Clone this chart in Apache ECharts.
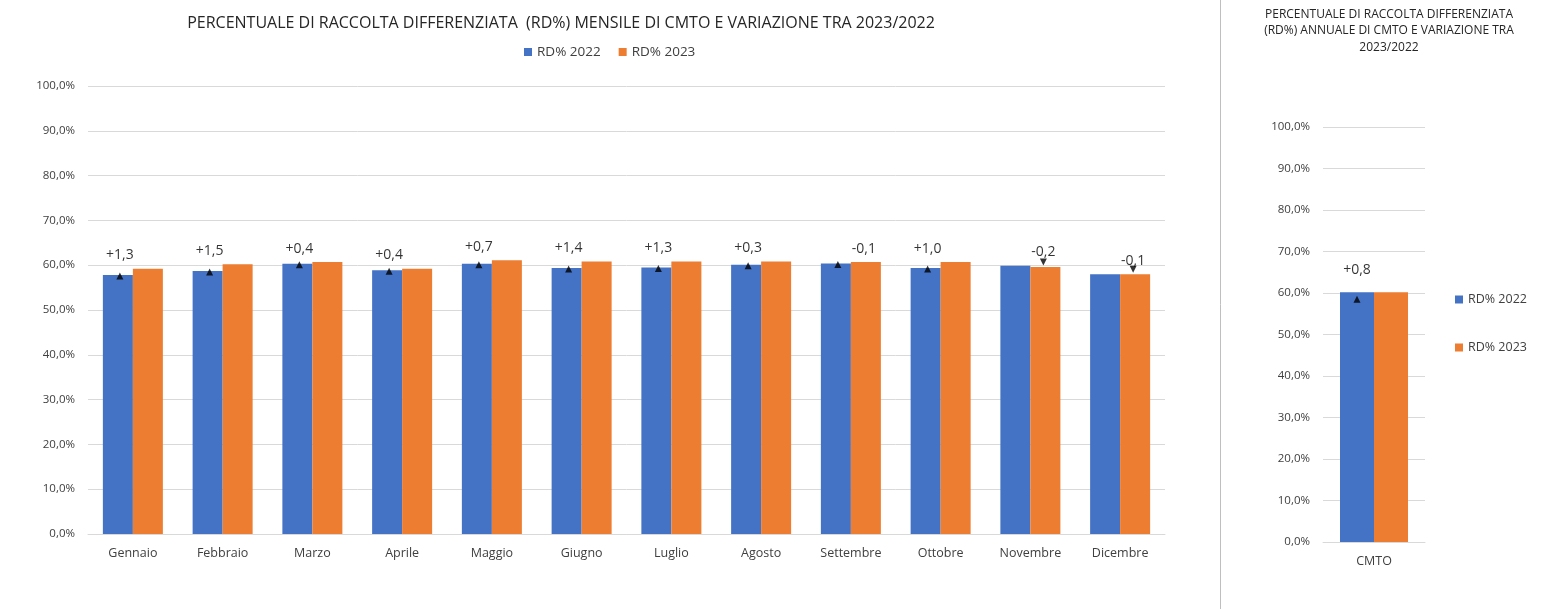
<!DOCTYPE html>
<html><head><meta charset="utf-8">
<script src="https://cdn.jsdelivr.net/npm/echarts@6/dist/echarts.min.js"></script>
<style>html,body{margin:0;padding:0;background:#fff}#c{width:1542px;height:609px}</style>
</head><body><div id="c"></div>
<script>
const months = ['Gennaio','Febbraio','Marzo','Aprile','Maggio','Giugno','Luglio','Agosto','Settembre','Ottobre','Novembre','Dicembre'];
const rd2022 = [57.8, 58.7, 60.3, 58.9, 60.3, 59.4, 59.5, 60.1, 60.4, 59.4, 59.9, 58.0];
const rd2023 = [59.2, 60.2, 60.7, 59.2, 61.1, 60.8, 60.8, 60.8, 60.7, 60.7, 59.6, 58.0];
const variation = [1.3, 1.5, 0.4, 0.4, 0.7, 1.4, 1.3, 0.3, -0.1, 1.0, -0.2, -0.1];
const arrowUp = [true, true, true, true, true, true, true, true, true, true, false, false];
const annualCat = ['CMTO'];
const annual2022 = [60.2];
const annual2023 = [60.2];
const annualVariation = [0.8];
const yTicks = [0, 10, 20, 30, 40, 50, 60, 70, 80, 90, 100];

const FONT = 'Open Sans';
const BLUE = '#4472C4', ORANGE = '#ED7D31';
const fmtPct = v => v.toFixed(1).replace('.', ',') + '%';
const fmtVar = v => (v > 0 ? '+' : '') + v.toFixed(1).replace('.', ',');

const chart = echarts.init(document.getElementById('c'), null, {renderer: 'canvas'});

const yAxisBase = {
  type: 'value', min: yTicks[0], max: yTicks[yTicks.length - 1], interval: 10,
  axisLine: {show: false}, axisTick: {show: false},
  splitLine: {lineStyle: {color: '#d9d9d9', width: 1}},
  axisLabel: {formatter: fmtPct, color: '#404040', fontFamily: FONT, fontSize: 11.5, margin: 13}
};
const xAxisBase = {
  type: 'category',
  axisLine: {lineStyle: {color: '#d9d9d9'}}, axisTick: {show: false},
  axisLabel: {color: '#404040', fontFamily: FONT, fontSize: 12.5, margin: 13}
};

const markerData = months.map((m, i) => {
  const up = arrowUp[i];
  return {
    value: [i, up ? rd2022[i] : rd2023[i]],
    symbolRotate: up ? 0 : 180,
    symbolOffset: up ? [-13, 1] : [13, -5]
  };
});
const labelData = months.map((m, i) => ({
  value: [i, Math.max(rd2022[i], rd2023[i])],
  label: {offset: [variation[i] >= 0 ? -13 : 13, 0]}
}));

chart.setOption({
  animation: false,
  title: [
    {text: 'PERCENTUALE DI RACCOLTA DIFFERENZIATA  (RD%) MENSILE DI CMTO E VARIAZIONE TRA 2023/2022',
     left: 556, top: 10, textAlign: 'center',
     textStyle: {fontFamily: FONT, fontSize: 16, fontWeight: 'normal', color: '#262626'}},
    {text: 'PERCENTUALE DI RACCOLTA DIFFERENZIATA\n(RD%) ANNUALE DI CMTO E VARIAZIONE TRA\n2023/2022',
     left: 1384, top: 1, textAlign: 'center',
     textStyle: {fontFamily: FONT, fontSize: 12, fontWeight: 'normal', color: '#262626', lineHeight: 16.5}}
  ],
  legend: [
    {data: ['RD% 2022', 'RD% 2023'], left: 519, top: 40, itemWidth: 8, itemHeight: 8, itemGap: 18,
     icon: 'rect', textStyle: {fontFamily: FONT, fontSize: 13.5, color: '#404040'}},
    {data: ['RD% 2022 ', 'RD% 2023 '], orient: 'vertical', left: 1450, top: 288, itemWidth: 8, itemHeight: 8,
     itemGap: 35, icon: 'rect', textStyle: {fontFamily: FONT, fontSize: 12.5, color: '#404040'}}
  ],
  graphic: [{type: 'line', shape: {x1: 1220.5, y1: 0, x2: 1220.5, y2: 609}, style: {stroke: '#bfbfbf', lineWidth: 1}}],
  grid: [
    {left: 88, right: 1542 - 1165, top: 86, bottom: 609 - 534},
    {left: 1323, right: 1542 - 1425, top: 127, bottom: 609 - 542}
  ],
  xAxis: [
    Object.assign({}, xAxisBase, {gridIndex: 0, data: months}),
    Object.assign({}, xAxisBase, {gridIndex: 1, data: annualCat})
  ],
  yAxis: [
    Object.assign({}, yAxisBase, {gridIndex: 0}),
    Object.assign({}, yAxisBase, {gridIndex: 1})
  ],
  series: [
    {name: 'RD% 2022', type: 'bar', xAxisIndex: 0, yAxisIndex: 0, data: rd2022, barWidth: 30, barGap: '0%',
     itemStyle: {color: BLUE}},
    {name: 'RD% 2023', type: 'bar', xAxisIndex: 0, yAxisIndex: 0, data: rd2023, barWidth: 30, barGap: '0%',
     itemStyle: {color: ORANGE}},
    {name: 'markers', type: 'scatter', xAxisIndex: 0, yAxisIndex: 0, data: markerData, symbol: 'triangle',
     symbolSize: [7, 7], itemStyle: {color: '#000'}, z: 5, silent: true},
    {name: 'labels', type: 'scatter', xAxisIndex: 0, yAxisIndex: 0, data: labelData, symbolSize: 1,
     itemStyle: {color: 'rgba(0,0,0,0)'}, z: 5, silent: true,
     label: {show: true, position: 'top', distance: 6, fontFamily: FONT, fontSize: 14, color: '#000',
       formatter: p => fmtVar(variation[p.dataIndex])}},
    {name: 'RD% 2022 ', type: 'bar', xAxisIndex: 1, yAxisIndex: 1, data: annual2022, barWidth: 34, barGap: '0%',
     itemStyle: {color: BLUE}},
    {name: 'RD% 2023 ', type: 'bar', xAxisIndex: 1, yAxisIndex: 1, data: annual2023, barWidth: 34, barGap: '0%',
     itemStyle: {color: ORANGE}},
    {name: 'markers2', type: 'scatter', xAxisIndex: 1, yAxisIndex: 1,
     data: annualCat.map((c, i) => ({value: [i, annual2022[i]], symbolRotate: annualVariation[i] >= 0 ? 0 : 180,
       symbolOffset: [-17, 7]})),
     symbol: 'triangle', symbolSize: [7, 7], itemStyle: {color: '#000'}, z: 5, silent: true},
    {name: 'labels2', type: 'scatter', xAxisIndex: 1, yAxisIndex: 1,
     data: annualCat.map((c, i) => ({value: [i, Math.max(annual2022[i], annual2023[i])], label: {offset: [-17, 0]}})),
     symbolSize: 1, itemStyle: {color: 'rgba(0,0,0,0)'}, z: 5, silent: true,
     label: {show: true, position: 'top', distance: 15, fontFamily: FONT, fontSize: 14, color: '#000',
       formatter: p => fmtVar(annualVariation[p.dataIndex])}}
  ]
});
</script></body></html>
